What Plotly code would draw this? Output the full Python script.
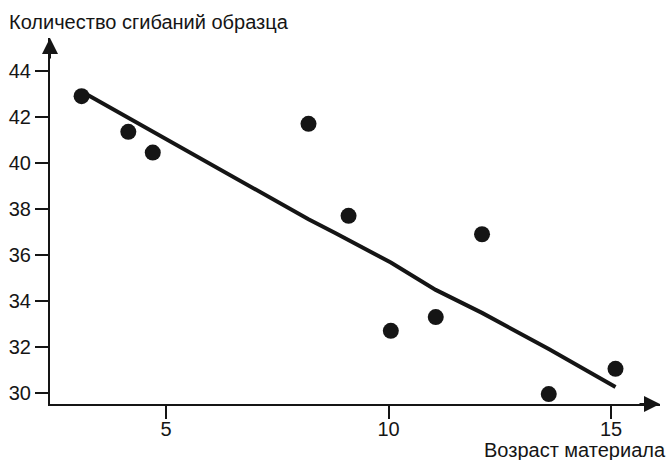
import plotly.graph_objects as go

# Data
age = [3.1, 4.15, 4.7, 8.2, 9.1, 10.05, 11.06, 12.1, 13.6, 15.1]
bends = [42.9, 41.35, 40.45, 41.7, 37.7, 32.7, 33.3, 36.9, 29.95, 31.05]

trend_x = [3.2, 8.2, 8.8, 9.1, 10.05, 11.06, 12.1, 13.6, 15.1]
trend_y = [43.0, 37.55, 36.95, 36.65, 35.67, 34.48, 33.48, 31.91, 30.26]

x_ticks = [5, 10, 15]
y_ticks = [30, 32, 34, 36, 38, 40, 42, 44]

y_title = "Количество сгибаний образца"
x_title = "Возраст материала"

INK = "#151515"
FONT = "Liberation Sans, Arial, sans-serif"
FS = 20

fig = go.Figure()
fig.add_trace(go.Scatter(x=trend_x, y=trend_y, mode="lines",
                         line=dict(color=INK, width=4), hoverinfo="skip"))
fig.add_trace(go.Scatter(x=age, y=bends, mode="markers",
                         marker=dict(color=INK, size=16, line=dict(width=0))))

fig.update_layout(
    width=670, height=460,
    margin=dict(l=50, r=10, t=38, b=56),
    paper_bgcolor="white", plot_bgcolor="white",
    showlegend=False,
    font=dict(family=FONT, size=FS, color=INK),
    xaxis=dict(range=[2.39, 16.1], tickvals=x_ticks, showgrid=False, zeroline=False,
               showline=True, linecolor=INK, linewidth=2,
               ticks="outside", ticklen=13, tickwidth=2, tickcolor=INK,
               ticklabelstandoff=-7, automargin=False),
    yaxis=dict(range=[29.52, 45.43], tickvals=y_ticks, showgrid=False, zeroline=False,
               showline=True, linecolor=INK, linewidth=2,
               ticks="outside", ticklen=13, tickwidth=2, tickcolor=INK,
               ticklabelstandoff=0, automargin=False),
)

# Arrowheads at ends of the axes
fig.add_annotation(x=1, y=0, xref="paper", yref="paper", ax=-22, ay=0,
                   showarrow=True, arrowhead=2, arrowsize=1.6, arrowwidth=2,
                   arrowcolor=INK, text="", standoff=0)
fig.add_annotation(x=0, y=1, xref="paper", yref="paper", ax=0, ay=22,
                   showarrow=True, arrowhead=2, arrowsize=1.6, arrowwidth=2,
                   arrowcolor=INK, text="", standoff=0)

# Axis titles
fig.add_annotation(x=0, y=1, xref="paper", yref="paper", text=y_title,
                   showarrow=False, xanchor="left", yanchor="middle",
                   xshift=-43, yshift=16, font=dict(family=FONT, size=FS, color=INK))
fig.add_annotation(x=1, y=0, xref="paper", yref="paper", text=x_title,
                   showarrow=False, xanchor="right", yanchor="middle",
                   xshift=8, yshift=-46, font=dict(family=FONT, size=FS, color=INK))

fig.write_html("out.html", config={"displayModeBar": False},
               post_script="document.body.style.margin='0';document.body.style.padding='0';")
